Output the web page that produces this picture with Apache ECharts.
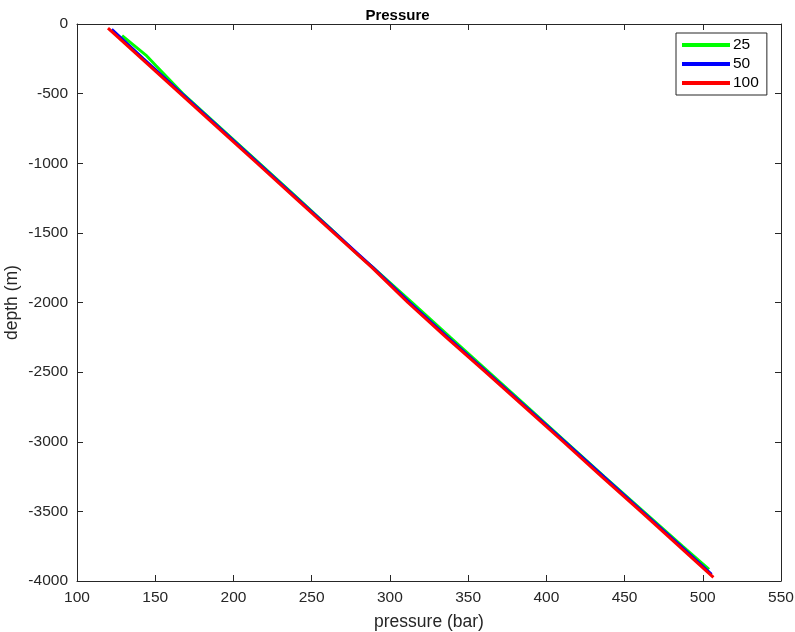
<!DOCTYPE html>
<html>
<head>
<meta charset="utf-8">
<script src="https://cdn.jsdelivr.net/npm/echarts@6/dist/echarts.min.js"></script>
<style>
html,body{margin:0;padding:0;background:#fff;}
#chart{width:795px;height:632px;}
</style>
</head>
<body>
<div id="chart"></div>
<script>
// Series data: depth (m) and pressure (bar)
const seriesNames = ['25', '50', '100'];
const colors = ['#00ff00', '#0000ff', '#ff0000'];

const depth25 = [-84, -150, -223, -300, -500, -750, -1000, -1250, -1500, -1650, -1750, -2000, -2250, -2500, -2750, -3000, -3250, -3500, -3750, -3916];
const pressure25 = [128.8, 136.0, 144.0, 150.5, 167.6, 192.0, 216.6, 241.0, 265.0, 279.0, 289.3, 314.2, 338.6, 363.2, 387.8, 412.4, 437.0, 462.0, 487.0, 504.0];

const depth50 = [-38, -250, -500, -750, -1000, -1250, -1500, -1750, -2000, -2250, -2500, -2750, -3000, -3250, -3500, -3750, -3952];
const pressure50 = [122.2, 142.5, 167.0, 191.4, 216.0, 240.4, 264.8, 289.2, 312.6, 337.0, 362.0, 386.9, 411.9, 436.6, 461.2, 485.9, 505.6];

const depth100 = [-29, -250, -500, -750, -1000, -1250, -1500, -1750, -2000, -2250, -2500, -2750, -3000, -3250, -3500, -3750, -3974];
const pressure100 = [119.8, 141.5, 166.0, 190.5, 215.1, 239.6, 264.1, 288.6, 311.5, 336.0, 361.2, 386.0, 410.8, 435.4, 460.3, 484.8, 506.8];

const xTicks = {min: 100, max: 550, interval: 50};
const yTicks = {min: -4000, max: 0, interval: 500};

function pairs(p, d) { return p.map((v, i) => [v, d[i]]); }
const allData = [pairs(pressure25, depth25), pairs(pressure50, depth50), pairs(pressure100, depth100)];

const font = '"Liberation Sans", Arial, Helvetica, sans-serif';
const axisColor = '#262626';
const fmt = v => String(v);

const chart = echarts.init(document.getElementById('chart'), null, {renderer: 'canvas'});
const option = {
  backgroundColor: '#fff',
  animation: false,
  title: {
    text: 'Pressure', left: 'center', top: 3,
    textStyle: {fontFamily: font, fontSize: 15, fontWeight: 'bold', color: '#000'}
  },
  grid: {left: 77, right: 14, top: 24, bottom: 51, containLabel: false, outerBoundsMode: 'none'},
  legend: {
    orient: 'vertical', left: 676, top: 33,
    data: seriesNames,
    itemWidth: 48, itemHeight: 4, itemGap: 3,
    padding: [4, 8, 4, 6],
    borderColor: '#262626', borderWidth: 1, backgroundColor: '#fff',
    textStyle: {fontFamily: font, fontSize: 15.5, color: '#000', padding: [0, 0, 0, -2]},
    icon: 'rect'
  },
  xAxis: [{
    type: 'value', position: 'bottom', min: xTicks.min, max: xTicks.max, interval: xTicks.interval,
    name: 'pressure (bar)', nameLocation: 'middle', nameGap: 32, nameMoveOverlap: false,
    nameTextStyle: {fontFamily: font, fontSize: 17.5, color: '#262626'},
    axisLine: {show: true, onZero: false, lineStyle: {color: axisColor, width: 1}},
    axisTick: {show: true, inside: true, length: 6, lineStyle: {color: axisColor}},
    axisLabel: {fontFamily: font, fontSize: 15.5, color: '#262626', margin: 9, formatter: fmt},
    splitLine: {show: false}
  }, {
    type: 'value', position: 'top', min: xTicks.min, max: xTicks.max, interval: xTicks.interval,
    axisLine: {show: true, onZero: false, lineStyle: {color: axisColor, width: 1}},
    axisTick: {show: true, inside: true, length: 6, lineStyle: {color: axisColor}},
    axisLabel: {show: false}, splitLine: {show: false}
  }],
  yAxis: [{
    type: 'value', position: 'left', min: yTicks.min, max: yTicks.max, interval: yTicks.interval,
    name: 'depth (m)', nameLocation: 'middle', nameGap: 56, nameRotate: 90, nameMoveOverlap: false,
    nameTextStyle: {fontFamily: font, fontSize: 17.5, color: '#262626'},
    axisLine: {show: true, onZero: false, lineStyle: {color: axisColor, width: 1}},
    axisTick: {show: true, inside: true, length: 6, lineStyle: {color: axisColor}},
    axisLabel: {fontFamily: font, fontSize: 15.5, color: '#262626', margin: 9, formatter: fmt},
    splitLine: {show: false}
  }, {
    type: 'value', position: 'right', min: yTicks.min, max: yTicks.max, interval: yTicks.interval,
    axisLine: {show: true, onZero: false, lineStyle: {color: axisColor, width: 1}},
    axisTick: {show: true, inside: true, length: 6, lineStyle: {color: axisColor}},
    axisLabel: {show: false}, splitLine: {show: false}
  }],
  series: seriesNames.map((n, i) => ({
    name: n, type: 'line', xAxisIndex: 0, yAxisIndex: 0,
    data: allData[i], showSymbol: false, symbol: 'none',
    lineStyle: {color: colors[i], width: 3},
    itemStyle: {color: colors[i]},
    z: 2 + i
  }))
};
chart.setOption(option);
</script>
</body>
</html>
